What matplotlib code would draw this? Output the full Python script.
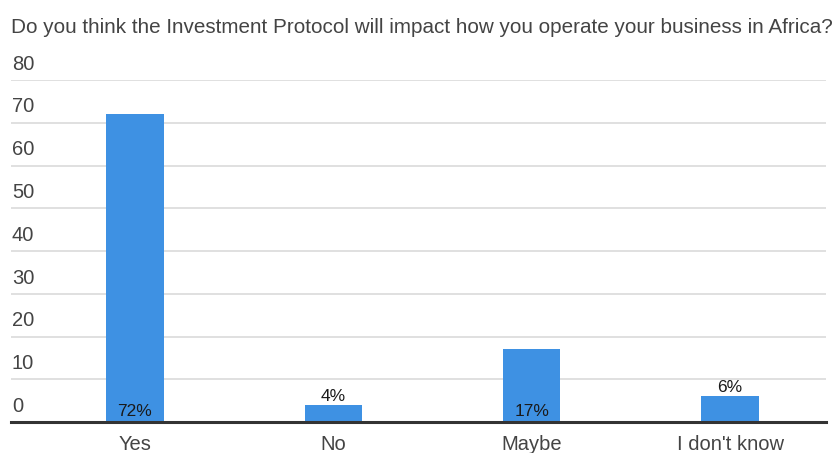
import matplotlib.pyplot as plt
import matplotlib.transforms as mtransforms

plt.rcParams['font.family'] = ['Liberation Sans', 'DejaVu Sans']

title = "Do you think the Investment Protocol will impact how you operate your business in Africa?"
categories = ["Yes", "No", "Maybe", "I don't know"]
values = [72, 4, 17, 6]
yticks = [0, 10, 20, 30, 40, 50, 60, 70, 80]

bar_color = '#3e91e3'
text_color = '#444444'

fig = plt.figure(figsize=(8.32, 4.53), dpi=100)
ax = fig.add_axes([11 / 832, 31 / 453, 815 / 832, 342 / 453])

x = range(len(categories))
bars = ax.bar(x, values, width=0.29, color=bar_color, zorder=2)

ax.set_xlim(-0.625, 3.484)
ax.set_ylim(0, 80)

# light grid, labels sit above each line on the left
ax.set_yticks(yticks)
ax.yaxis.grid(True, color='#dadada', linewidth=1.2, zorder=0)
ax.tick_params(axis='y', left=False, labelleft=False)
blend = mtransforms.blended_transform_factory(ax.transAxes, ax.transData)
for t in yticks:
    ax.annotate(str(t), xy=(0.001, t), xycoords=blend, xytext=(0, 4.5),
                textcoords='offset points', ha='left', va='bottom',
                fontsize=14.5, color=text_color)

ax.set_xticks(list(x))
ax.set_xticklabels(categories, fontsize=14.5, color=text_color)
ax.tick_params(axis='x', length=0, pad=9.5)

for s in ['top', 'right', 'left']:
    ax.spines[s].set_visible(False)
ax.spines['bottom'].set_color('#333333')
ax.spines['bottom'].set_linewidth(2.2)
ax.spines['bottom'].set_zorder(3)

# percentage labels: inside at the base for tall bars, on top for short ones
for b, v in zip(bars, values):
    cx = b.get_x() + b.get_width() / 2
    if v >= 10:
        ax.annotate(f"{v}%", xy=(cx, 0), xytext=(0, 4), textcoords='offset points',
                    ha='center', va='baseline', fontsize=12.5, color='#1a1a1a', zorder=4)
    else:
        ax.annotate(f"{v}%", xy=(cx, v), xytext=(0, 3), textcoords='offset points',
                    ha='center', va='baseline', fontsize=12.5, color='#1a1a1a', zorder=4)

fig.text(11 / 832, 1 - 33 / 453, title, ha='left', va='baseline',
         fontsize=14.9, color=text_color)

fig.savefig('out.png', dpi=100, facecolor='white')
